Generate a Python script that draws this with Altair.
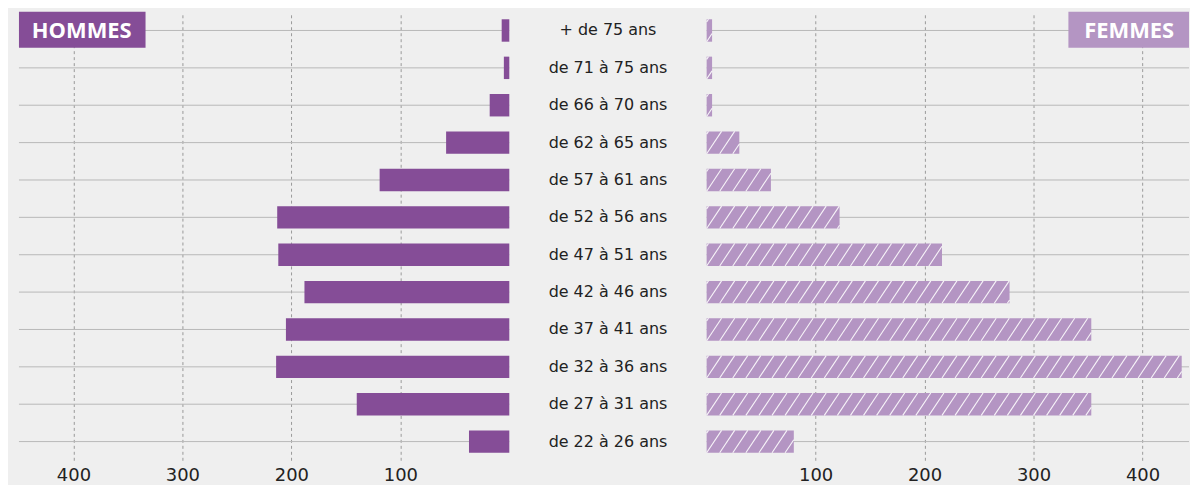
import altair as alt
import pandas as pd

ages = ["+ de 75 ans", "de 71 à 75 ans", "de 66 à 70 ans", "de 62 à 65 ans",
        "de 57 à 61 ans", "de 52 à 56 ans", "de 47 à 51 ans", "de 42 à 46 ans",
        "de 37 à 41 ans", "de 32 à 36 ans", "de 27 à 31 ans", "de 22 à 26 ans"]
hommes = [7, 5, 18, 58, 119, 213, 212, 188, 205, 214, 140, 37]
femmes = [5, 5, 5, 30, 59, 122, 216, 278, 353, 436, 353, 80]
ticks = [100, 200, 300, 400]

df = pd.DataFrame({"age": ages, "h": hommes, "f": femmes, "i": list(range(len(ages)))})

C_H = "#854d97"
C_F = "#b495c3"
FONT = "DejaVu Sans"
LW, MW, RW, H = 492, 196, 484, 450
LMAX = 450
RMAX = LMAX * RW / LW   # same px-per-unit on both sides
HALF = 0.3      # half bar thickness in row units
D = 13.7        # horizontal run of a hatch stripe (x units)
STEP = 12       # hatch spacing (x units)

yscale = alt.Scale(domain=[-0.5, len(ages) - 0.5], reverse=True, nice=False, zero=False)


def xaxis():
    return alt.Axis(values=ticks, grid=True, gridDash=[3, 3], gridColor="#9a9a9a",
                    gridWidth=1, domain=False, ticks=False, labelFontSize=18,
                    labelPadding=6, labelColor="#222222", labelFont=FONT, title=None)


base = alt.Chart(df)

# ---------- left panel (HOMMES) ----------
xl = alt.Scale(domain=[0, LMAX], reverse=True, nice=False, zero=True)
grid_l = base.mark_rule(color="#b9b9b9", strokeWidth=1).encode(
    y=alt.Y("i:Q", scale=yscale, axis=None), x=alt.value(0), x2=alt.value(LW))
bars_l = base.transform_calculate(
    y0=f"datum.i - {HALF}", y1=f"datum.i + {HALF}", z="0"
).mark_rect(color=C_H).encode(
    x=alt.X("z:Q", scale=xl, axis=xaxis()), x2="h:Q",
    y=alt.Y("y0:Q", scale=yscale, axis=None), y2="y1:Q")
lab_h = alt.Chart(pd.DataFrame({"t": ["HOMMES"]}))
box_l = lab_h.mark_rect(color=C_H).encode(
    x=alt.value(0), x2=alt.value(127), y=alt.value(0), y2=alt.value(36))
txt_l = lab_h.mark_text(color="white", font="Open Sans", fontWeight="bold",
                        fontSize=22, align="center", baseline="middle").encode(
    x=alt.value(63), y=alt.value(19), text="t:N")
left = alt.layer(grid_l, bars_l, box_l, txt_l).properties(width=LW, height=H)

# ---------- middle labels ----------
mid = base.mark_text(font=FONT, fontSize=16, color="#222222",
                     align="center", baseline="middle").encode(
    x=alt.value(MW / 2), y=alt.Y("i:Q", scale=yscale, axis=None), text="age:N"
).properties(width=MW, height=H)

# ---------- right panel (FEMMES) ----------
xr = alt.Scale(domain=[0, RMAX], nice=False, zero=True)
grid_r = base.mark_rule(color="#b9b9b9", strokeWidth=1).encode(
    y=alt.Y("i:Q", scale=yscale, axis=None), x=alt.value(0), x2=alt.value(RW))
bars_r = base.transform_calculate(
    y0=f"datum.i - {HALF}", y1=f"datum.i + {HALF}", z="0"
).mark_rect(color=C_F).encode(
    x=alt.X("z:Q", scale=xr, axis=xaxis()), x2="f:Q",
    y=alt.Y("y0:Q", scale=yscale, axis=None), y2="y1:Q")
hatch = base.transform_calculate(
    s=f"sequence(-{STEP}, datum.f, {STEP})"
).transform_flatten(["s"]).transform_calculate(
    t0=f"max(0, -datum.s / {D})",
    t1=f"min(1, (datum.f - datum.s) / {D})"
).transform_filter("datum.t1 > datum.t0").transform_calculate(
    xa=f"datum.s + {D} * datum.t0",
    xb=f"datum.s + {D} * datum.t1",
    ya=f"datum.i + {HALF} - {2 * HALF} * datum.t0",
    yb=f"datum.i + {HALF} - {2 * HALF} * datum.t1"
).mark_rule(color="white", strokeWidth=1.1, opacity=0.9).encode(
    x=alt.X("xa:Q", scale=xr), x2="xb:Q",
    y=alt.Y("ya:Q", scale=yscale, axis=None), y2="yb:Q")
lab_f = alt.Chart(pd.DataFrame({"t": ["FEMMES"]}))
box_r = lab_f.mark_rect(color=C_F).encode(
    x=alt.value(RW - 121), x2=alt.value(RW), y=alt.value(0), y2=alt.value(36))
txt_r = lab_f.mark_text(color="white", font="Open Sans", fontWeight="bold",
                        fontSize=22, align="center", baseline="middle").encode(
    x=alt.value(RW - 60), y=alt.value(19), text="t:N")
right = alt.layer(grid_r, bars_r, hatch, box_r, txt_r).properties(width=RW, height=H)

chart = alt.hconcat(left, mid, right, spacing=0).configure(
    background="#efefef",
    padding={"left": 10, "top": 3, "right": 0, "bottom": 0}
).configure_view(stroke=None)

chart.save("out.html", embed_options={"renderer": "svg", "actions": False})
